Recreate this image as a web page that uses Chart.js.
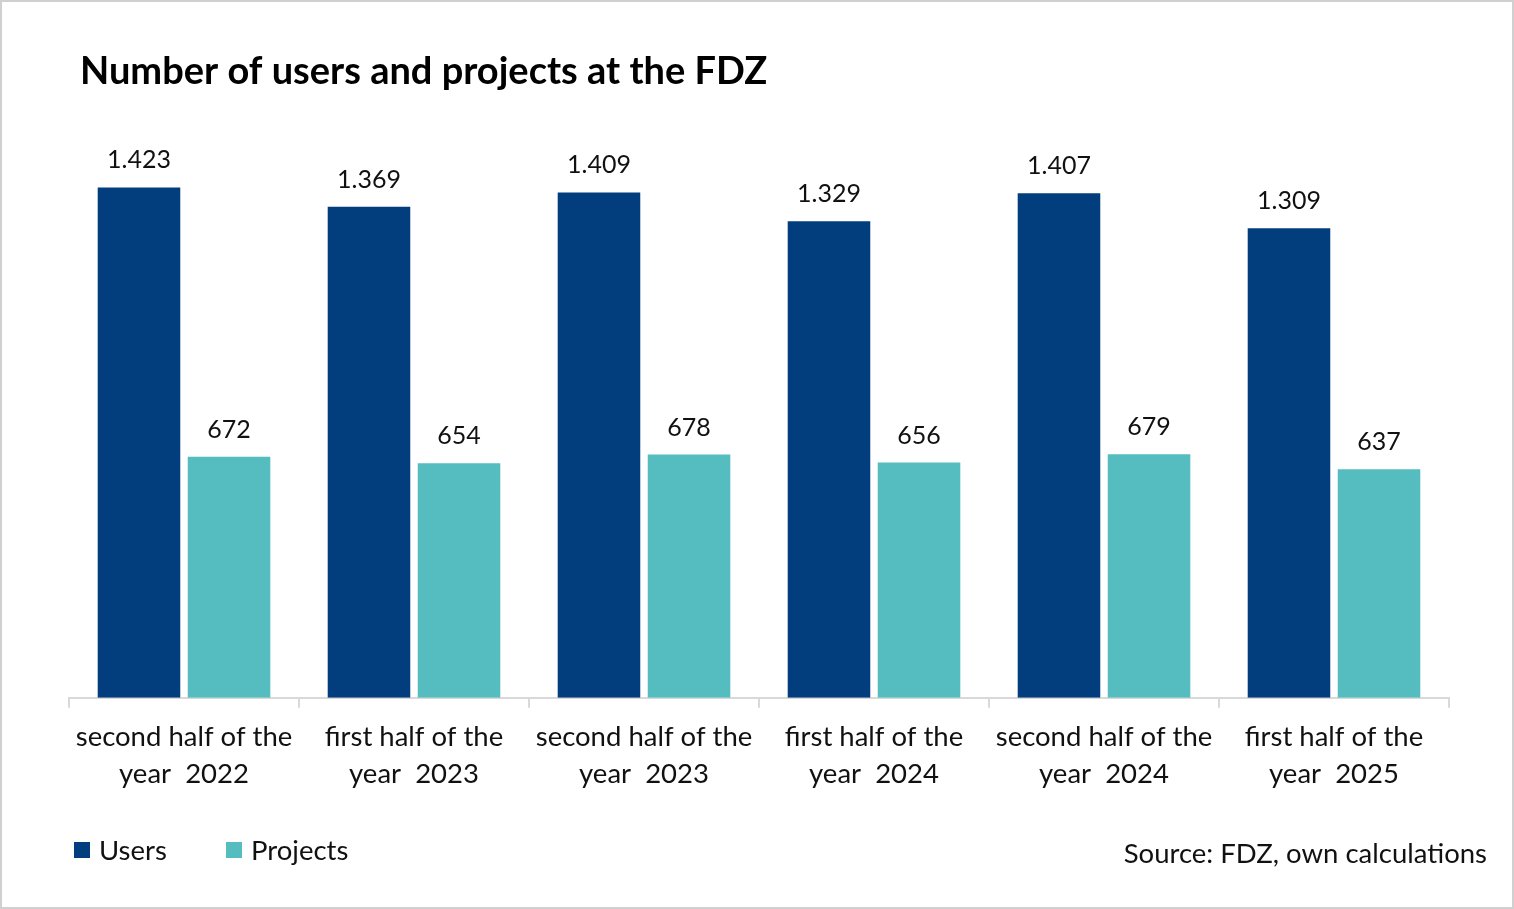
<!DOCTYPE html>
<html>
<head>
<meta charset="utf-8">
<script src="https://cdn.jsdelivr.net/npm/chart.js@4"></script>
<style>
  html, body { margin: 0; padding: 0; background: #ffffff; }
  #wrap { position: relative; width: 1514px; height: 909px; }
</style>
</head>
<body>
<div id="wrap"><canvas id="c"></canvas></div>
<script>
const categories = [
  ['second half of the', 'year  2022'],
  ['first half of the', 'year  2023'],
  ['second half of the', 'year  2023'],
  ['first half of the', 'year  2024'],
  ['second half of the', 'year  2024'],
  ['first half of the', 'year  2025']
];
const users = [1423, 1369, 1409, 1329, 1407, 1309];
const projects = [672, 654, 678, 656, 679, 637];
const seriesNames = ['Users', 'Projects'];
const chartTitle = 'Number of users and projects at the FDZ';
const sourceNote = 'Source: FDZ, own calculations';

const FONT = 'Lato, "Source Sans Pro", "Noto Sans", sans-serif';
const COLORS = ['#023e7d', '#55bdbf'];

function fmt(v) {
  return String(v).replace(/\B(?=(\d{3})+(?!\d))/g, '.');
}

const decorPlugin = {
  id: 'decor',
  afterDatasetsDraw(chart) {
    const ctx = chart.ctx;
    ctx.save();
    ctx.fillStyle = '#111111';
    ctx.font = '25px ' + FONT;
    ctx.textAlign = 'center';
    ctx.textBaseline = 'alphabetic';
    chart.data.datasets.forEach((ds, di) => {
      const meta = chart.getDatasetMeta(di);
      meta.data.forEach((bar, i) => {
        ctx.fillText(fmt(ds.data[i]), bar.x, bar.y - 19);
      });
    });
    ctx.restore();
  },
  afterDraw(chart) {
    const ctx = chart.ctx;
    ctx.save();
    // border
    ctx.strokeStyle = '#d0d0d0';
    ctx.lineWidth = 2;
    ctx.strokeRect(1, 1, chart.width - 2, chart.height - 2);
    // title
    ctx.fillStyle = '#000000';
    ctx.font = 'bold 38px ' + FONT;
    ctx.textAlign = 'left';
    ctx.textBaseline = 'alphabetic';
    ctx.fillText(chartTitle, 80, 84);
    // legend
    const legendX = [74, 226];
    ctx.font = '27.5px ' + FONT;
    ctx.textBaseline = 'middle';
    chart.data.datasets.forEach((ds, di) => {
      ctx.fillStyle = ds.backgroundColor;
      ctx.fillRect(legendX[di], 842, 16, 16);
      ctx.fillStyle = '#111111';
      ctx.fillText(ds.label, legendX[di] + 25, 851);
    });
    // source
    ctx.textAlign = 'right';
    ctx.fillText(sourceNote, 1487, 854);
    ctx.restore();
  }
};

new Chart(document.getElementById('c'), {
  type: 'bar',
  data: {
    labels: categories,
    datasets: [
      { label: seriesNames[0], data: users, backgroundColor: COLORS[0], categoryPercentage: 0.783, barPercentage: 0.917 },
      { label: seriesNames[1], data: projects, backgroundColor: COLORS[1], categoryPercentage: 0.783, barPercentage: 0.917 }
    ]
  },
  options: {
    responsive: true,
    maintainAspectRatio: false,
    animation: false,
    devicePixelRatio: 1,
    layout: { padding: { left: 69, right: 65, top: 124, bottom: 105 } },
    plugins: {
      legend: { display: false },
      title: { display: false },
      tooltip: { enabled: false }
    },
    scales: {
      x: {
        offset: true,
        grid: {
          offset: true,
          drawOnChartArea: false,
          drawTicks: true,
          tickLength: 10,
          color: '#d9d9d9',
          lineWidth: 2
        },
        border: { display: true, color: '#d9d9d9', width: 2 },
        ticks: {
          padding: 11,
          color: '#111111',
          maxRotation: 0,
          autoSkip: false,
          font: { family: FONT, size: 27.5, lineHeight: 1.35 }
        }
      },
      y: {
        display: false,
        min: 0,
        max: 1600
      }
    }
  },
  plugins: [decorPlugin]
});
</script>
</body>
</html>
